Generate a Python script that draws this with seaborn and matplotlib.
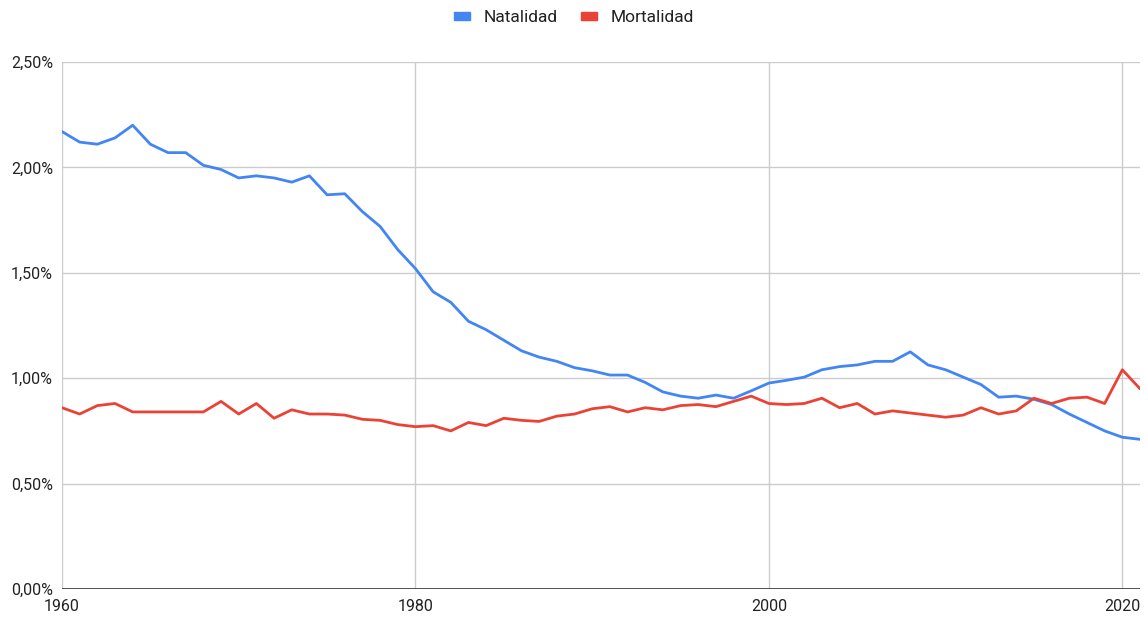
import numpy as np
import pandas as pd
import matplotlib
matplotlib.use("Agg")
import matplotlib.pyplot as plt
import seaborn as sns
from matplotlib.ticker import FuncFormatter, FixedLocator
from matplotlib.patches import Patch

years = list(range(1960, 2022))
natalidad = [2.17, 2.12, 2.11, 2.14, 2.20, 2.11, 2.07, 2.07, 2.01, 1.99,
             1.95, 1.96, 1.95, 1.93, 1.96, 1.87, 1.875, 1.79, 1.72, 1.61,
             1.52, 1.41, 1.36, 1.27, 1.23, 1.18, 1.13, 1.10, 1.08, 1.05,
             1.035, 1.015, 1.015, 0.98, 0.935, 0.915, 0.905, 0.92, 0.905, 0.94,
             0.977, 0.99, 1.005, 1.04, 1.055, 1.063, 1.08, 1.08, 1.125, 1.063,
             1.04, 1.005, 0.97, 0.91, 0.915, 0.90, 0.875, 0.83, 0.79, 0.75,
             0.72, 0.71]
mortalidad = [0.86, 0.83, 0.87, 0.88, 0.84, 0.84, 0.84, 0.84, 0.84, 0.89,
              0.83, 0.88, 0.81, 0.85, 0.83, 0.83, 0.825, 0.805, 0.80, 0.78,
              0.77, 0.775, 0.75, 0.79, 0.775, 0.81, 0.80, 0.795, 0.82, 0.83,
              0.855, 0.865, 0.84, 0.86, 0.85, 0.87, 0.875, 0.865, 0.89, 0.915,
              0.88, 0.875, 0.88, 0.905, 0.86, 0.88, 0.83, 0.845, 0.835, 0.825,
              0.815, 0.825, 0.86, 0.83, 0.845, 0.905, 0.88, 0.905, 0.91, 0.88,
              1.04, 0.95]
series_names = ["Natalidad", "Mortalidad"]
colors = ["#4285F4", "#EA4335"]
y_ticks = [0, 0.5, 1.0, 1.5, 2.0, 2.5]
x_ticks = [1960, 1980, 2000, 2020]

df = pd.DataFrame({
    "year": years * 2,
    "value": natalidad + mortalidad,
    "serie": [series_names[0]] * len(years) + [series_names[1]] * len(years),
})

sns.set_theme(style="white")
plt.rcParams["font.family"] = ["Roboto", "DejaVu Sans"]

fig = plt.figure(figsize=(11.48, 6.19), dpi=100)
ax = fig.add_axes([62 / 1148, 1 - 589 / 619, (1140 - 62) / 1148, (589 - 62) / 619])

for x in x_ticks:
    ax.axvline(x, color="#cccccc", lw=1.0, zorder=0)
for y in y_ticks[1:]:
    ax.axhline(y, color="#cccccc", lw=1.0, zorder=0)

sns.lineplot(data=df, x="year", y="value", hue="serie", palette=colors,
             hue_order=series_names, ax=ax, linewidth=2.0, legend=False, zorder=3)

ax.axhline(0, color="#333333", lw=1.2, zorder=4)

ax.set_xlim(1960, 2021)
ax.set_ylim(0, 2.5)
ax.xaxis.set_major_locator(FixedLocator(x_ticks))
ax.yaxis.set_major_locator(FixedLocator(y_ticks))
ax.yaxis.set_major_formatter(FuncFormatter(lambda v, p: f"{v:.2f}".replace(".", ",") + "%"))
ax.set_xlabel("")
ax.set_ylabel("")
for s in ax.spines.values():
    s.set_visible(False)
ax.tick_params(axis="both", length=0, labelsize=11.5, labelcolor="#222222")
ax.tick_params(axis="y", pad=6.5)
ax.tick_params(axis="x", pad=7)

handles = [Patch(facecolor=c, edgecolor=c, label=n) for c, n in zip(colors, series_names)]
fig.legend(handles=handles, loc="center", bbox_to_anchor=(0.5, 1 - 18 / 619), ncol=2,
           frameon=False, fontsize=12.5, handlelength=0.92, handleheight=0.3,
           handletextpad=0.8, columnspacing=1.3, labelcolor="#222222")

fig.savefig("out.png", dpi=100)
